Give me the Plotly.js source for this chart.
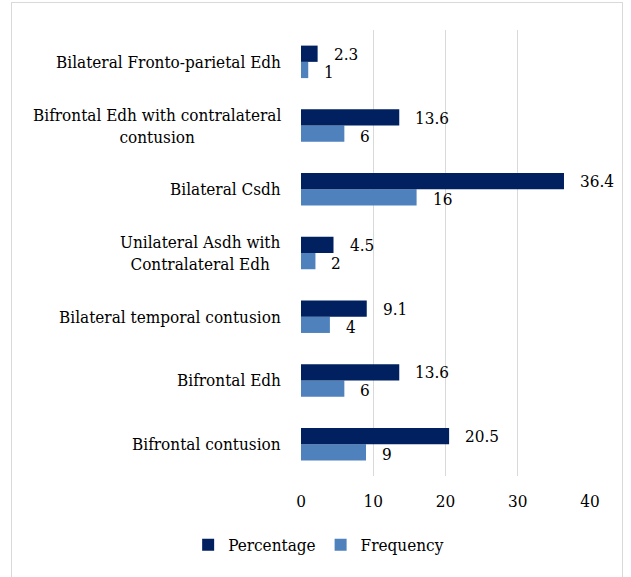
<!DOCTYPE html>
<html><head><meta charset="utf-8">
<script src="https://cdn.plot.ly/plotly-3.0.1.min.js"></script>
<style>
html,body{margin:0;padding:0;background:#fff;}
#wrap{position:relative;width:631px;height:577px;overflow:hidden;}
#chart{position:absolute;left:0;top:0;width:631px;height:577px;}
#frame{position:absolute;left:11px;top:2px;width:610px;height:590px;border:1px solid #d9d9d9;pointer-events:none;}
</style></head>
<body><div id="wrap"><div id="chart"></div><div id="frame"></div></div>
<script>
const categories = [
  "Bifrontal contusion",
  "Bifrontal Edh",
  "Bilateral temporal contusion",
  "Unilateral Asdh with<br>Contralateral Edh",
  "Bilateral Csdh",
  "Bifrontal Edh with contralateral<br>contusion",
  "Bilateral Fronto-parietal Edh"
];
const percentage = [20.5, 13.6, 9.1, 4.5, 36.4, 13.6, 2.3];
const frequency = [9, 6, 4, 2, 16, 6, 1];
const xTicks = [0, 10, 20, 30, 40];

const FONT = "'DejaVu Serif Condensed', 'DejaVu Serif', serif";
const FS = 17;
const navy = "#002060";
const blue = "#4f81bd";

const traces = [
  {type:'bar', orientation:'h', name:'Frequency', x:frequency, y:categories,
   marker:{color:blue}, legendrank:2, hoverinfo:'none'},
  {type:'bar', orientation:'h', name:'Percentage', x:percentage, y:categories,
   marker:{color:navy}, legendrank:1, hoverinfo:'none'}
];

const annotations = [];
categories.forEach((c, i) => {
  annotations.push({xref:'paper', yref:'y', x:-0.062, y:c, xanchor:'right', yanchor:'middle',
    text:c, align:'center', showarrow:false, font:{family:FONT, size:FS, color:'#000'}});
  annotations.push({xref:'x', yref:'y', x:percentage[i], y:c, xanchor:'left', yanchor:'middle',
    xshift:14, yshift:8, text:String(percentage[i]), showarrow:false,
    font:{family:FONT, size:FS, color:'#000'}});
  annotations.push({xref:'x', yref:'y', x:frequency[i], y:c, xanchor:'left', yanchor:'middle',
    xshift:14, yshift:-10, text:String(frequency[i]), showarrow:false,
    font:{family:FONT, size:FS, color:'#000'}});
});

const layout = {
  width:631, height:577,
  margin:{l:301, r:41, t:30, b:101},
  paper_bgcolor:'#fff', plot_bgcolor:'#fff',
  font:{family:FONT, size:FS, color:'#000'},
  barmode:'group', bargap:0.49, bargroupgap:0,
  showlegend:true,
  legend:{orientation:'h', xref:'container', x:0.505, xanchor:'center', yref:'container', y:0.055, yanchor:'middle',
    font:{family:FONT, size:FS, color:'#000'}, itemwidth:30, traceorder:'normal'},
  xaxis:{range:[0,40], tickvals:xTicks, ticktext:xTicks.map(String), showgrid:true, gridcolor:'#d9d9d9', gridwidth:1,
    zeroline:false, showline:false, ticks:'', ticklabelstandoff:13, fixedrange:true,
    tickfont:{family:FONT, size:FS, color:'#000'}},
  yaxis:{type:'category', categoryorder:'array', categoryarray:categories, showticklabels:false,
    showgrid:false, zeroline:false, showline:false, ticks:'', fixedrange:true},
  annotations:annotations
};

Plotly.newPlot('chart', traces, layout, {displayModeBar:false, staticPlot:true});
</script></body></html>
